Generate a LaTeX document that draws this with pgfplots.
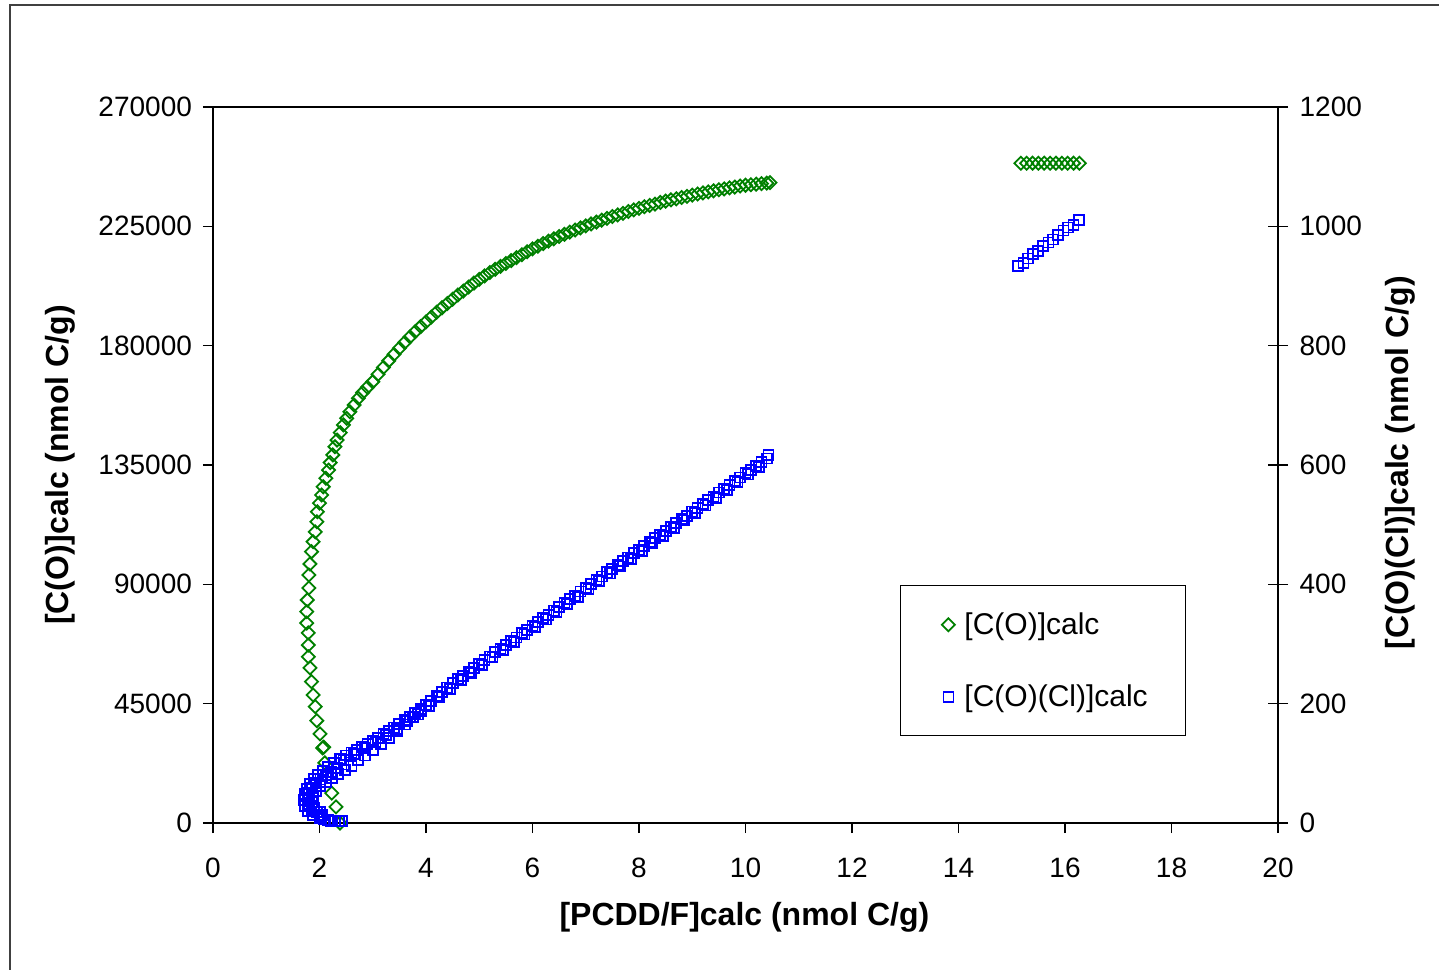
\documentclass[border=0pt]{standalone}
\usepackage{fontspec}
\setmainfont{Liberation Sans}
\usepackage{pgfplots}
\pgfplotsset{compat=1.18}
\definecolor{xlgreen}{RGB}{0,128,0}
\definecolor{xlblue}{RGB}{0,0,255}
\newcommand{\tickfont}{\fontsize{14}{16}\selectfont}
\newcommand{\legfont}{\fontsize{15}{17}\selectfont}
\newcommand{\labfont}{\fontsize{16}{19}\selectfont\bfseries}

\pgfplotsset{
  base/.style={
    width=532.5pt, height=358pt, scale only axis,
    at={(0,0)}, anchor=south west, clip=false,
    xmin=0, xmax=20,
    /pgf/number format/fixed,
    /pgf/number format/precision=0,
    /pgf/number format/assume math mode=true,
    /pgf/number format/1000 sep={},
    scaled ticks=false,
    tick label style={font=\tickfont, black},
    axis line style={line width=0.7pt},
    every tick/.style={black, line width=0.7pt},
    label style={font=\labfont},
  },
  dia/.style={only marks, color=xlgreen, mark=square, mark size=2.3pt,
    mark options={rotate=45, line width=0.9pt}},
  sqr/.style={only marks, color=xlblue, mark=square, mark size=2.5pt,
    mark options={line width=0.9pt}},
}

\begin{document}
\begin{tikzpicture}
% left axis: [C(O)]calc
\begin{axis}[base,
  ymin=0, ymax=270000,
  xtick={0,2,...,20}, ytick={0,45000,90000,135000,180000,225000,270000},
  xtick pos=left, ytick pos=left,
  tick align=outside, major tick length=5pt,
  xticklabel shift=9pt, yticklabel shift=2pt,
  xlabel={[PCDD/F]calc (nmol C/g)},
  ylabel={[C(O)]calc (nmol C/g)},
  xlabel style={at={(axis description cs:0.499,-0.131)}, anchor=center},
  ylabel style={at={(axis description cs:-0.1437,0.5)}, anchor=center},
]
\addplot[dia] coordinates {
(2.385,0) (2.31,6100) (2.23,11300) (2.10,22700) (2.08,28600) (2.06,28300)
(2.01,33600) (1.95,38600) (1.92,43900) (1.88,48300) (1.85,53300) (1.82,58500)
(1.79,62700) (1.79,67100) (1.79,71700) (1.76,75400) (1.76,79700) (1.77,84100)
(1.80,88600) (1.80,93500) (1.82,97700) (1.85,102300) (1.88,106100) (1.92,109800)
(1.95,113600) (1.96,117400) (2.00,120600) (2.04,123700) (2.07,126800) (2.12,130000)
(2.17,133100) (2.20,135900) (2.25,138800) (2.29,141900) (2.33,144400) (2.39,147200)
(2.45,150100) (2.51,152600) (2.57,155100) (2.65,157600) (2.73,160200) (2.81,162300)
(2.90,164300) (3.0,166400) (3.1,169200) (3.2,171800) (3.3,174300) (3.4,176700)
(3.5,179000) (3.6,181200) (3.7,183300) (3.8,185300) (3.9,187200) (4.0,189000)
(4.1,190800) (4.2,192600) (4.3,194300) (4.4,195900) (4.5,197500) (4.6,199100)
(4.7,200600) (4.8,202100) (4.9,203600) (5.0,205000) (5.1,206300) (5.2,207600)
(5.3,208800) (5.4,209900) (5.5,211000) (5.6,212100) (5.7,213200) (5.8,214300)
(5.9,215400) (6.0,216500) (6.1,217500) (6.2,218500) (6.3,219400) (6.4,220300)
(6.5,221200) (6.6,222000) (6.7,222800) (6.8,223600) (6.9,224400) (7.0,225200)
(7.1,225900) (7.2,226600) (7.3,227300) (7.4,228000) (7.5,228700) (7.6,229300)
(7.7,229900) (7.8,230600) (7.9,231200) (8.0,231800) (8.1,232400) (8.2,232900)
(8.3,233400) (8.4,234000) (8.5,234500) (8.6,235000) (8.7,235400) (8.8,235900)
(8.9,236300) (9.0,236800) (9.1,237200) (9.2,237600) (9.3,238000) (9.4,238400)
(9.5,238800) (9.6,239100) (9.7,239500) (9.8,239800) (9.9,240200) (10.0,240500)
(10.1,240700) (10.2,240900) (10.3,241100) (10.4,241300) (10.46,241500)
(15.17,248800) (15.28,248800) (15.39,248800) (15.50,248800) (15.61,248800)
(15.72,248800) (15.83,248800) (15.94,248800) (16.05,248800) (16.16,248800)
(16.27,248800)
};
\end{axis}
% right axis: [C(O)(Cl)]calc
\begin{axis}[base,
  ymin=0, ymax=1200, ytick={0,200,...,1200},
  axis x line=none, axis y line*=right,
  tick align=center, major tick length=10pt,
  yticklabel shift=2.3pt,
  ylabel={[C(O)(Cl)]calc (nmol C/g)},
  ylabel style={at={(axis description cs:1.1146,0.503)}, anchor=center},
  legend style={at={(rel axis cs:0.645,0.332)}, anchor=north west,
    draw=black, line width=0.5pt, font=\legfont,
    inner xsep=17pt, inner ysep=11.3pt, row sep=19.6pt},
  legend cell align=left,
  legend image code/.code={\path[draw=none] (-7pt,0pt) -- (6pt,0pt);
    \draw[#1] plot coordinates {(0pt,0pt)};},
]
\addlegendimage{dia}
\addlegendentry{[C(O)]calc}
\addplot[sqr] coordinates {
(2.42,3) (2.36,3) (2.29,4) (2.22,4) (2.16,5) (2.09,6) (2.03,10)
(2.01,8) (1.88,13) (1.78,20) (1.73,29) (1.71,39) (1.73,49) (1.77,57) (1.82,65)
(1.90,74) (1.97,80) (2.07,87) (2.16,94) (2.27,101) (2.38,107)
(2.05,13) (1.95,18) (1.85,24) (1.80,32) (1.79,42) (1.81,51) (1.86,59) (1.93,67)
(2.02,73) (2.12,80) (2.22,86) (2.33,92) (2.45,98)
(2.01,18) (1.90,25) (1.86,35) (1.88,45) (1.93,54) (2.01,62) (2.12,69) (2.23,75)
(2.35,82) (2.48,89) (2.60,95) (2.72,105) (2.85,113) (3.0,122) (3.15,132)
(3.3,143) (3.45,154) (3.6,165) (3.75,177) (3.9,188)
(2.4,108) (2.5,113) (2.6,118) (2.7,123) (2.8,128) (2.9,133) (3.0,138) (3.1,143)
(3.2,149) (3.3,154) (3.4,160) (3.5,166) (3.6,172) (3.7,178) (3.8,184) (3.9,191)
(4.0,198) (4.1,205) (4.2,213) (4.3,220) (4.4,227) (4.5,234) (4.6,241) (4.7,247)
(4.8,254) (4.9,260) (5.0,267) (5.1,273) (5.2,279) (5.3,286) (5.4,292) (5.5,298)
(5.6,305) (5.7,311) (5.8,318) (5.9,324) (6.0,330) (6.1,337) (6.2,343) (6.3,349)
(6.4,356) (6.5,362) (6.6,369) (6.7,375) (6.8,381) (6.9,388) (7.0,394) (7.1,400)
(7.2,407) (7.3,413) (7.4,420) (7.5,426) (7.6,432) (7.7,439) (7.8,445) (7.9,452)
(8.0,458) (8.1,464) (8.2,471) (8.3,477) (8.4,483) (8.5,490) (8.6,496) (8.7,503)
(8.8,509) (8.9,515) (9.0,522) (9.1,528) (9.2,535) (9.3,541) (9.4,547) (9.5,554)
(9.6,560) (9.7,566) (9.8,573) (9.9,579) (10.0,586) (10.1,592) (10.2,598)
(10.3,605) (10.4,611) (10.43,617)
(2.45,106) (2.65,116) (2.85,126) (3.05,136) (3.25,147) (3.45,158) (3.65,170)
(3.85,182) (4.05,196) (4.25,211) (4.45,225) (4.65,239) (4.85,252) (5.05,265)
(5.25,278) (5.45,290) (5.65,303) (5.85,316) (6.05,328) (6.25,341) (6.45,354)
(6.65,367) (6.85,379) (7.05,392) (7.25,405) (7.45,418) (7.65,430) (7.85,443)
(8.05,456) (8.25,469) (8.45,481) (8.65,494) (8.85,507) (9.05,520) (9.25,532)
(9.45,545) (9.65,558) (9.85,571) (10.05,584) (10.25,596)
(15.12,933) (15.22,939) (15.31,946) (15.40,953) (15.50,959) (15.59,967)
(15.69,973) (15.78,978) (15.87,985) (15.97,993) (16.06,998) (16.16,1002)
(16.27,1011)
};
\addlegendentry{[C(O)(Cl)]calc}
\end{axis}
% outer chart-area frame (left and top edges visible)
\draw[line width=1pt, black!75] (-101.5pt,-80pt) -- (-101.5pt,409pt) -- (620pt,409pt);
\pgfresetboundingbox
\path (-106.5pt,-73pt) rectangle (613pt,411.5pt);
\end{tikzpicture}
\end{document}
